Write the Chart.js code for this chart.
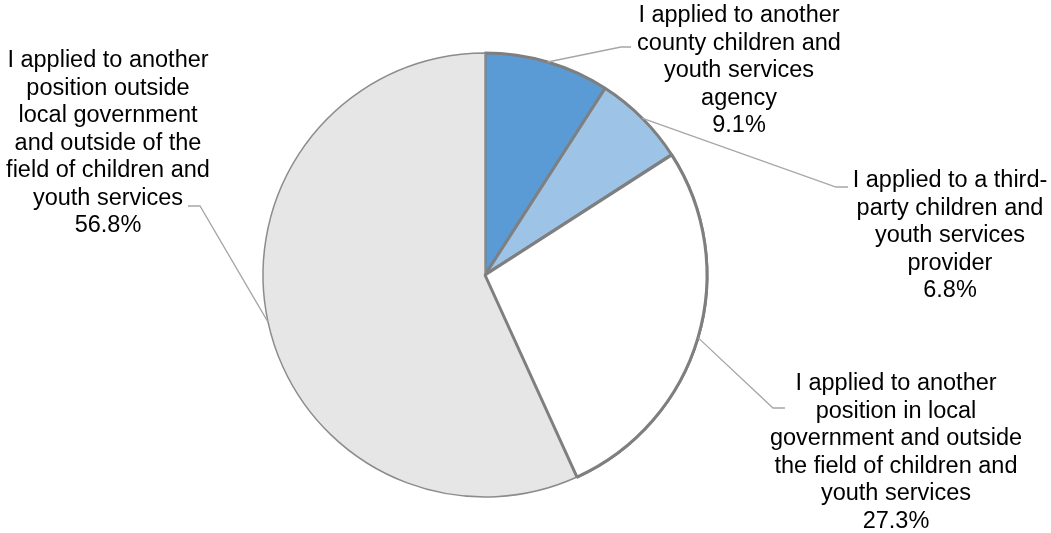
<!DOCTYPE html>
<html>
<head>
<meta charset="utf-8">
<script src="https://cdn.jsdelivr.net/npm/chart.js@4.4.0/dist/chart.umd.min.js"></script>
<style>
  html, body { margin: 0; padding: 0; background: #ffffff; }
  #wrap { width: 1051px; height: 533px; position: relative; }
</style>
</head>
<body>
<div id="wrap"><canvas id="pie" width="1051" height="533"></canvas></div>
<script>
// Where respondents applied
const categories = [
  'I applied to another county children and youth services agency',
  'I applied to a third-party children and youth services provider',
  'I applied to another position in local government and outside the field of children and youth services',
  'I applied to another position outside local government and outside of the field of children and youth services'
];
const shares = [9.1, 6.8, 27.3, 56.8];

// Wrapped label text for each slice (percentage is appended as the last line)
const labelLines = [
  ['I applied to another', 'county children and', 'youth services', 'agency'],
  ['I applied to a third-', 'party children and', 'youth services', 'provider'],
  ['I applied to another', 'position in local', 'government and outside', 'the field of children and', 'youth services'],
  ['I applied to another', 'position outside', 'local government', 'and outside of the', 'field of children and', 'youth services']
];

// Callout placement: text centre x, first baseline y, leader elbow and leader tail
const labelLayout = [
  { x: 739, y: 22,  elbow: [621, 47],  tail: [631, 47] },
  { x: 950, y: 187, elbow: [836, 187], tail: [848, 187] },
  { x: 896, y: 390, elbow: [773, 408], tail: [785, 408] },
  { x: 108, y: 67,  elbow: [200, 206], tail: [188, 206] }
];

const LINE_H = 27.5;
const FONT = '23.5px "Liberation Sans", Arial, sans-serif';

const calloutPlugin = {
  id: 'callouts',
  afterDatasetsDraw(chart) {
    const ctx = chart.ctx;
    const arcs = chart.getDatasetMeta(0).data;
    ctx.save();
    // bring the white slice's outline back on top of its neighbour
    arcs[2].draw(ctx);
    arcs.forEach((arc, i) => {
      const lay = labelLayout[i];
      const mid = (arc.startAngle + arc.endAngle) / 2;
      const sx = arc.x + Math.cos(mid) * arc.outerRadius;
      const sy = arc.y + Math.sin(mid) * arc.outerRadius;
      ctx.strokeStyle = '#a6a6a6';
      ctx.lineWidth = 1.3;
      ctx.beginPath();
      ctx.moveTo(sx, sy);
      ctx.lineTo(lay.elbow[0], lay.elbow[1]);
      ctx.lineTo(lay.tail[0], lay.tail[1]);
      ctx.stroke();

      ctx.fillStyle = '#000000';
      ctx.font = FONT;
      ctx.textAlign = 'center';
      ctx.textBaseline = 'alphabetic';
      const lines = labelLines[i].concat([shares[i].toFixed(1) + '%']);
      lines.forEach((t, k) => ctx.fillText(t, lay.x, lay.y + k * LINE_H));
    });
    ctx.restore();
  }
};

new Chart(document.getElementById('pie'), {
  type: 'pie',
  data: {
    labels: categories,
    datasets: [{
      data: shares,
      backgroundColor: ['#5b9bd5', '#9dc3e6', '#ffffff', '#e7e6e6'],
      borderColor: ['#7f7f7f', '#7f7f7f', '#7f7f7f', '#8c8c8c'],
      borderWidth: [3, 3, 3, 1.5]
    }]
  },
  options: {
    responsive: false,
    animation: false,
    rotation: 0,
    layout: { padding: { top: 51.5, bottom: 34.5, left: 261.5, right: 342.5 } },
    plugins: {
      legend: { display: false },
      tooltip: { enabled: false }
    }
  },
  plugins: [calloutPlugin]
});
</script>
</body>
</html>
